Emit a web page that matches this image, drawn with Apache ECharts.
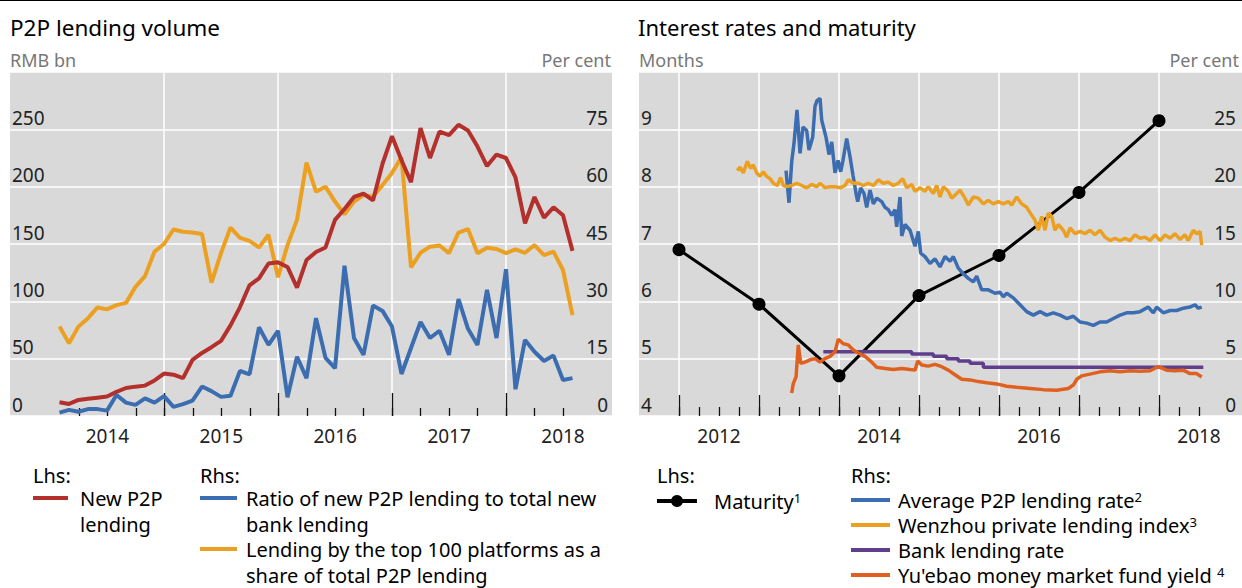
<!DOCTYPE html>
<html lang="en" style="height: 100%;margin: 0;">
<head>
    <meta charset="UTF-8">
    <title>P2P lending</title>
</head>
<body style="margin: 0;background: #fff;">
<div id="chart" style="width: 1242px;height: 588px;"></div>
<script src="https://cdn.jsdelivr.net/npm/echarts@6/dist/echarts.min.js"></script>
<script>
    // ---- left panel: monthly, first point Feb 2014 ----
    var volFirstYear = 2014, volFirstMonth = 2;
    var newLending = [12, 10.5, 14, 15, 16, 17, 21, 24.4, 25.6, 26.5,
        31, 37, 36, 33, 49, 55, 60, 65.5, 79, 95,
        114, 120, 133, 134, 130, 112, 136, 143, 147, 171,
        180.5, 191, 194, 188, 220, 244, 223, 204, 251, 225,
        248, 245, 254, 249, 235, 218, 228, 225, 208, 168,
        191, 173, 182, 175, 144];
    var ratioToBank = [0.9, 1.6, 1.1, 1.8, 1.8, 1.4, 5.5, 3.5, 2.9, 4.6,
        3.5, 5.2, 2.4, 3.1, 4.0, 7.7, 6.5, 5.0, 5.3, 11.8,
        10.9, 23.2, 18.6, 22.3, 4.9, 15.5, 9.9, 25.6, 15.2, 12.5,
        39.3, 20.4, 16, 28.9, 27.5, 23.4, 11, 17.8, 24.6, 20.4,
        22.3, 16, 30.6, 22.8, 18.6, 33, 20.4, 38.4, 7, 19.9,
        16.8, 14.4, 15.8, 9.4, 9.9];
    var top100Share = [23.4, 19, 23.4, 25.6, 28.4, 27.9, 29, 29.6, 33.8, 36.6,
        43, 45, 48.8, 48.2, 48, 47.6, 34.9, 42.6, 49.3, 46.6,
        45.8, 44.1, 47.4, 36.3, 44.7, 51.3, 66.3, 58.7, 60, 56.1,
        52.8, 56.1, 57.8, 57.4, 60.4, 63.6, 67.7, 38.9, 42.7, 44.3,
        44.6, 42.6, 48, 48.9, 42.6, 44, 43.7, 42.6, 43.6, 42.7,
        44.7, 42.1, 43, 38.2, 26.4];

    // ---- right panel: [decimal year, value] ----
    var maturity = [[2012, 6.9], [2013, 5.95], [2014, 4.7], [2015, 6.1], [2016, 6.8], [2017, 7.9], [2018, 9.15]];
    var p2pRate = [[2013.338, 21.4], [2013.375, 18.6], [2013.409, 22.2], [2013.438, 23.8], [2013.475, 26.7],
        [2013.513, 22.9], [2013.55, 25.2], [2013.596, 24.9], [2013.625, 23.2], [2013.671, 24.3],
        [2013.70, 27.0], [2013.725, 27.5], [2013.763, 27.7], [2013.784, 25.8], [2013.838, 24.3],
        [2013.875, 22.8], [2013.909, 23.9], [2013.95, 21.2], [2013.988, 22.3], [2014.021, 21.3],
        [2014.05, 22.3], [2014.096, 24.2], [2014.138, 22.6], [2014.175, 21.0], [2014.213, 19.4],
        [2014.234, 18.7], [2014.271, 19.9], [2014.313, 19.4], [2014.346, 18.2], [2014.388, 19.7],
        [2014.429, 18.5], [2014.471, 19.0], [2014.534, 18.7], [2014.575, 18.2], [2014.616, 18.0],
        [2014.659, 17.5], [2014.70, 18.0], [2014.721, 16.5], [2014.763, 19.1], [2014.784, 15.7],
        [2014.825, 16.7], [2014.888, 16.2], [2014.95, 14.8], [2014.991, 16.1], [2015.021, 14.2],
        [2015.075, 13.9], [2015.138, 13.3], [2015.20, 13.7], [2015.263, 13.0], [2015.325, 13.9],
        [2015.388, 13.5], [2015.429, 13.9], [2015.491, 12.9], [2015.554, 12.4], [2015.616, 12.0],
        [2015.679, 11.7], [2015.721, 12.2], [2015.784, 11.0], [2015.866, 11.0], [2015.95, 10.7],
        [2016.013, 10.8], [2016.054, 10.4], [2016.096, 10.7], [2016.179, 10.3], [2016.263, 9.7],
        [2016.346, 9.1], [2016.429, 8.8], [2016.513, 9.1], [2016.596, 8.8], [2016.679, 9.0],
        [2016.763, 8.8], [2016.846, 8.5], [2016.929, 8.7], [2017.013, 8.2], [2017.096, 8.1],
        [2017.179, 7.9], [2017.263, 8.2], [2017.346, 8.2], [2017.429, 8.5], [2017.513, 8.8],
        [2017.596, 9.0], [2017.679, 9.0], [2017.763, 9.1], [2017.866, 9.5], [2017.929, 9.0],
        [2017.971, 9.5], [2018.054, 9.0], [2018.138, 9.2], [2018.221, 9.2], [2018.304, 9.4],
        [2018.388, 9.5], [2018.45, 9.7], [2018.491, 9.4], [2018.534, 9.5]];
    var wenzhouIndex = [[2012.729, 21.4], [2012.763, 21.7], [2012.804, 21.2], [2012.854, 22.2], [2012.896, 21.6],
        [2012.929, 21.9], [2012.971, 21.2], [2013.013, 20.9], [2013.054, 21.3], [2013.096, 20.9],
        [2013.138, 20.7], [2013.179, 20.3], [2013.229, 20.1], [2013.271, 20.8], [2013.304, 20.1],
        [2013.346, 20.0], [2013.409, 20.1], [2013.471, 20.3], [2013.534, 20.1], [2013.596, 19.9],
        [2013.659, 20.2], [2013.721, 20.0], [2013.763, 20.3], [2013.825, 19.9], [2013.888, 20.0],
        [2013.95, 20.0], [2014.013, 19.9], [2014.075, 20.1], [2014.116, 20.6], [2014.179, 20.3],
        [2014.241, 20.3], [2014.304, 20.1], [2014.366, 20.3], [2014.429, 20.1], [2014.491, 20.6],
        [2014.554, 20.3], [2014.616, 20.4], [2014.679, 20.1], [2014.741, 20.3], [2014.796, 20.7],
        [2014.846, 19.9], [2014.909, 20.2], [2014.95, 19.6], [2015.013, 19.9], [2015.075, 19.6],
        [2015.116, 20.0], [2015.179, 19.4], [2015.221, 20.1], [2015.263, 19.1], [2015.304, 20.0],
        [2015.366, 19.6], [2015.409, 19.0], [2015.471, 19.4], [2015.513, 19.7], [2015.575, 19.0],
        [2015.616, 18.4], [2015.679, 19.1], [2015.741, 19.0], [2015.804, 18.5], [2015.866, 18.8],
        [2015.929, 18.5], [2015.991, 18.7], [2016.054, 18.5], [2016.116, 18.7], [2016.159, 18.4],
        [2016.221, 19.1], [2016.284, 18.5], [2016.346, 18.2], [2016.409, 17.5], [2016.45, 17.1],
        [2016.491, 16.2], [2016.534, 17.4], [2016.575, 16.2], [2016.616, 17.7], [2016.659, 17.4],
        [2016.70, 16.2], [2016.741, 16.7], [2016.804, 16.2], [2016.846, 15.6], [2016.888, 16.4],
        [2016.95, 15.9], [2017.013, 16.1], [2017.075, 15.9], [2017.138, 16.2], [2017.20, 15.8],
        [2017.263, 16.2], [2017.325, 15.6], [2017.388, 15.3], [2017.45, 15.5], [2017.513, 15.3],
        [2017.575, 15.5], [2017.638, 15.3], [2017.70, 15.8], [2017.763, 15.5], [2017.825, 15.6],
        [2017.888, 15.3], [2017.95, 15.8], [2018.013, 15.3], [2018.075, 15.8], [2018.138, 15.5],
        [2018.20, 15.9], [2018.263, 15.4], [2018.325, 15.8], [2018.366, 15.3], [2018.429, 16.2],
        [2018.471, 15.9], [2018.513, 16.1], [2018.534, 14.9]];
    var bankRate = [[2013.804, 5.6], [2014.909, 5.4], [2015.179, 5.2], [2015.346, 5.0], [2015.491, 4.8],
        [2015.638, 4.6], [2015.804, 4.25], [2018.554, 4.25]];
    var yuebaoYield = [[2013.409, 2.0], [2013.429, 2.85], [2013.463, 3.4], [2013.491, 6.2], [2013.521, 4.6],
        [2013.575, 4.7], [2013.638, 4.9], [2013.70, 5.0], [2013.763, 4.7], [2013.825, 5.0],
        [2013.888, 5.2], [2013.95, 5.6], [2013.991, 6.7], [2014.054, 6.3], [2014.116, 6.2],
        [2014.179, 5.75], [2014.241, 5.5], [2014.325, 5.2], [2014.409, 4.7], [2014.471, 4.25],
        [2014.575, 4.15], [2014.679, 4.05], [2014.784, 4.15], [2014.888, 4.05], [2014.95, 4.0],
        [2014.984, 4.8], [2015.034, 4.45], [2015.116, 4.35], [2015.20, 4.5], [2015.284, 4.3],
        [2015.366, 4.0], [2015.45, 3.6], [2015.534, 3.2], [2015.638, 3.15], [2015.741, 3.0],
        [2015.846, 2.9], [2015.971, 2.8], [2016.096, 2.6], [2016.221, 2.5], [2016.388, 2.4],
        [2016.554, 2.3], [2016.721, 2.25], [2016.866, 2.4], [2016.929, 2.7], [2016.971, 3.2],
        [2017.034, 3.5], [2017.138, 3.65], [2017.263, 3.85], [2017.388, 3.95], [2017.513, 3.85],
        [2017.638, 3.95], [2017.763, 3.9], [2017.888, 3.95], [2017.991, 4.3], [2018.096, 4.0],
        [2018.20, 3.95], [2018.304, 4.0], [2018.388, 3.7], [2018.471, 3.7], [2018.534, 3.4]];

    var FONT = '"Noto Sans", "Open Sans", sans-serif';
    var GRAY_BG = '#d9d9d9';
    var C_RED = '#b3302c', C_BLUE = '#3b6db0', C_ORANGE = '#eba021',
        C_PURPLE = '#5f3f8c', C_RUST = '#e0611f';

    function monthPos(i) {
        return volFirstYear + (volFirstMonth - 1 + i) / 12;
    }
    function zipMonths(values) {
        return values.map(function (v, i) { return [monthPos(i), v]; });
    }
    function midYear(every) {
        return function (v) {
            var f = v - Math.floor(v);
            if (Math.abs(f - 0.5) > 0.01) return '';
            var y = Math.floor(v);
            return (y % every === 0) ? String(y) : '';
        };
    }
    function valueY(gridIndex, pos, min, max, interval, margin) {
        return {
            type: 'value', gridIndex: gridIndex, position: pos, min: min, max: max, interval: interval,
            axisLine: {show: false}, axisTick: {show: false},
            axisLabel: {inside: true, verticalAlign: 'bottom', margin: margin, padding: [0, 0, 2, 0],
                fontSize: 19, color: '#222', fontFamily: FONT, showMaxLabel: false},
            splitLine: {show: pos === 'left', lineStyle: {color: '#fff', width: 1.5}}
        };
    }
    function hiddenY(gridIndex) {
        return {type: 'value', gridIndex: gridIndex, min: 0, max: 1, show: false};
    }
    function tickX(gridIndex, min, max, interval, len, labels) {
        return {
            type: 'value', gridIndex: gridIndex, min: min, max: max, interval: interval,
            axisLine: {show: false},
            axisTick: {show: true, inside: true, length: len, lineStyle: {color: '#111', width: 1.3}},
            axisLabel: labels ? {show: true, formatter: labels, fontSize: 19, color: '#222',
                fontFamily: FONT, margin: 10, showMinLabel: true, showMaxLabel: true} : {show: false},
            splitLine: {show: !labels, lineStyle: {color: '#fff', width: 1.5}}
        };
    }
    function lineSeries(name, x, y, data, color, width) {
        return {
            name: name, type: 'line', xAxisIndex: x, yAxisIndex: y, data: data,
            symbol: 'none', lineStyle: {color: color, width: width}, itemStyle: {color: color}
        };
    }

    var T = 72, H = 344;
    var grids = [
        {left: 10, top: T, width: 602, height: H, show: true, backgroundColor: GRAY_BG, borderWidth: 0},
        {left: 79, top: T, width: 484, height: H},
        {left: 164, top: T, width: 342, height: H},
        {left: 639, top: T, width: 603, height: H, show: true, backgroundColor: GRAY_BG, borderWidth: 0},
        {left: 679, top: T, width: 520, height: H},
        {left: 679, top: T, width: 480, height: H}
    ];

    var xAxes = [
        {type: 'value', gridIndex: 0, min: 2013.6491, max: 2018.9298, show: false},
        tickX(1, 2014.25, 2018.5, 0.25, 8, midYear(1)),
        tickX(2, 2015, 2018, 1, 23, null),
        {type: 'value', gridIndex: 3, min: 2011.5, max: 2019.0375, show: false},
        tickX(4, 2012, 2018.5, 0.25, 9, midYear(2)),
        tickX(5, 2012, 2018, 1, 21, null)
    ];

    var yAxes = [
        valueY(0, 'left', 0, 300, 50, 2),
        valueY(0, 'right', 0, 90, 15, 4),
        valueY(3, 'left', 4, 10, 1, 2),
        valueY(3, 'right', 0, 30, 5, 6),
        hiddenY(1), hiddenY(2), hiddenY(4), hiddenY(5)
    ];

    var series = [
        lineSeries('Lending by the top 100 platforms', 0, 1, zipMonths(top100Share), C_ORANGE, 4),
        lineSeries('New P2P lending', 0, 0, zipMonths(newLending), C_RED, 4),
        lineSeries('Ratio of new P2P lending', 0, 1, zipMonths(ratioToBank), C_BLUE, 4),
        {
            name: 'Maturity', type: 'line', xAxisIndex: 3, yAxisIndex: 2, data: maturity,
            symbol: 'circle', symbolSize: 13, lineStyle: {color: '#000', width: 3}, itemStyle: {color: '#000'}
        },
        lineSeries('Average P2P lending rate', 3, 3, p2pRate, C_BLUE, 3.5),
        lineSeries('Wenzhou private lending index', 3, 3, wenzhouIndex, C_ORANGE, 3.5),
        Object.assign(lineSeries('Bank lending rate', 3, 3, bankRate, C_PURPLE, 3.5), {step: 'end'}),
        lineSeries("Yu'ebao money market fund yield", 3, 3, yuebaoYield, C_RUST, 3.5)
    ];

    // titles and legends
    function txt(text, x, y, size, color, align, rich) {
        var st = {text: text, x: x, y: y, fill: color || '#000', fontSize: size, fontFamily: FONT,
            align: align || 'left', verticalAlign: 'middle'};
        if (rich) st.rich = rich;
        return {type: 'text', z: 100, style: st};
    }
    function swatch(x1, x2, y, color) {
        return {type: 'line', z: 100, shape: {x1: x1, y1: y, x2: x2, y2: y},
            style: {stroke: color, lineWidth: 4}};
    }
    var sup = {s: {fontSize: 13, verticalAlign: 'top', fontFamily: FONT, fill: '#000'}};
    var LG = 20;
    var graphics = [
        {type: 'line', shape: {x1: 0, y1: 0.5, x2: 1242, y2: 0.5}, style: {stroke: '#000', lineWidth: 1}},
        txt('P2P lending volume', 10, 27, 22.5),
        txt('Interest rates and maturity', 638, 27, 22),
        txt('RMB bn', 10, 60, 18, '#777'),
        txt('Per cent', 611, 60, 18, '#777', 'right'),
        txt('Months', 639, 60, 18, '#777'),
        txt('Per cent', 1239, 60, 18, '#777', 'right'),

        txt('Lhs:', 33, 475, LG),
        swatch(33, 68, 498, C_RED),
        txt('New P2P', 80, 498, LG),
        txt('lending', 80, 524, LG),
        txt('Rhs:', 200, 475, LG),
        swatch(200, 237, 498, C_BLUE),
        txt('Ratio of new P2P lending to total new', 246, 498, LG),
        txt('bank lending', 246, 524, LG),
        swatch(200, 237, 549, C_ORANGE),
        txt('Lending by the top 100 platforms as a', 246, 549, LG),
        txt('share of total P2P lending', 246, 575, LG),

        txt('Lhs:', 657, 475, LG),
        swatch(657, 697, 501, '#000'),
        {type: 'circle', z: 101, shape: {cx: 677, cy: 501, r: 6}, style: {fill: '#000'}},
        txt('Maturity{s|1}', 714, 501, LG, '#000', 'left', sup),
        txt('Rhs:', 851, 475, LG),
        swatch(851, 890, 500, C_BLUE),
        txt('Average P2P lending rate{s|2}', 898, 500, LG, '#000', 'left', sup),
        swatch(851, 890, 525, C_ORANGE),
        txt('Wenzhou private lending index{s|3}', 898, 525, LG, '#000', 'left', sup),
        swatch(851, 890, 550, C_PURPLE),
        txt('Bank lending rate', 898, 550, LG),
        swatch(851, 890, 575, C_RUST),
        txt("Yu'ebao money market fund yield {s|4}", 898, 575, LG, '#000', 'left', sup)
    ];

    var myChart = echarts.init(document.getElementById('chart'), null, {renderer: 'svg'});
    myChart.setOption({
        animation: false,
        backgroundColor: '#fff',
        textStyle: {fontFamily: FONT},
        grid: grids,
        xAxis: xAxes,
        yAxis: yAxes,
        series: series,
        graphic: graphics
    });
</script>
</body>
</html>
